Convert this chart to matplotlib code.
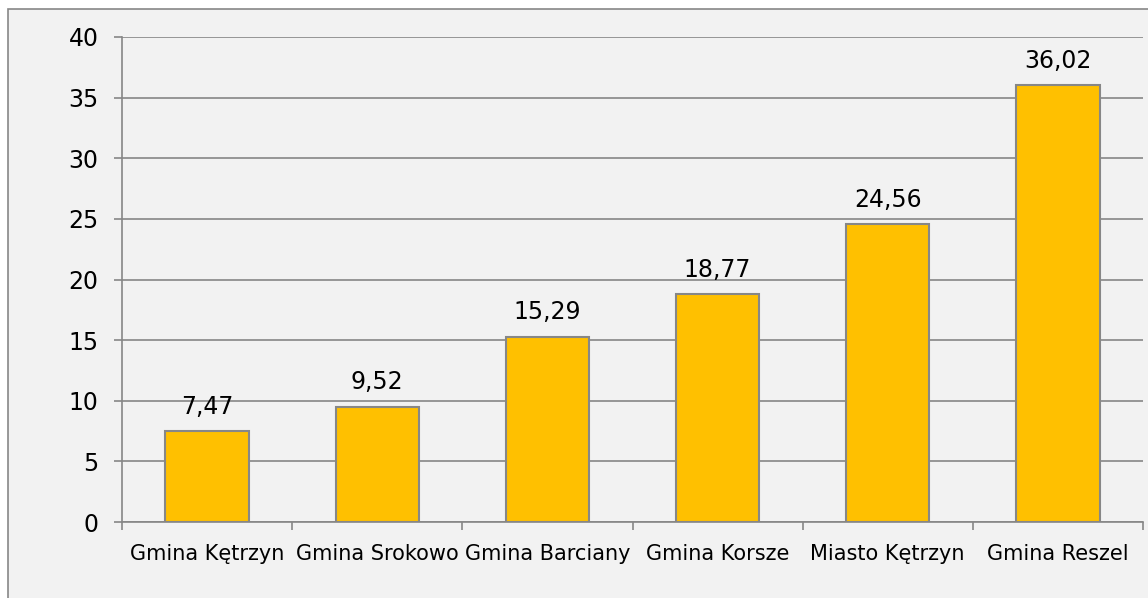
import matplotlib.pyplot as plt
from matplotlib.patches import Rectangle
import numpy as np

categories = ["Gmina Kętrzyn", "Gmina Srokowo", "Gmina Barciany",
              "Gmina Korsze", "Miasto Kętrzyn", "Gmina Reszel"]
values = [7.47, 9.52, 15.29, 18.77, 24.56, 36.02]
yticks = [0, 5, 10, 15, 20, 25, 30, 35, 40]

grey = "#878787"
bg = "#F2F2F2"

plt.rcParams['font.family'] = ['DejaVu Sans']

fig = plt.figure(figsize=(11.48, 5.98), dpi=100, facecolor="white")

# chart area frame (behind the axes)
frame = Rectangle((8 / 1148, -0.02), 1.05, 1 + 0.02 - 8.5 / 598,
                  transform=fig.transFigure, facecolor=bg,
                  edgecolor=grey, linewidth=1.2, zorder=-10)
fig.add_artist(frame)

ax = fig.add_axes([122 / 1148, 1 - 522 / 598, (1143 - 122) / 1148, (522 - 37) / 598])
ax.patch.set_visible(False)
ax.set_zorder(1)

x = np.arange(len(categories))
bars = ax.bar(x, values, width=0.49, color="#FFC000", edgecolor=grey,
              linewidth=1.5, zorder=3)

for xi, v in zip(x, values):
    ax.annotate(f"{v:.2f}".replace(".", ","), (xi, v), xytext=(0, 9),
                textcoords="offset points", ha="center", va="bottom",
                fontsize=17, color="black")

ax.set_xlim(-0.5, len(categories) - 0.5)
ax.set_ylim(0, 40)
ax.set_yticks(yticks)
ax.set_yticklabels([str(t) for t in yticks])
ax.yaxis.grid(True, color=grey, linewidth=1.2, zorder=0)
ax.set_axisbelow(True)

ax.set_xticks(x)
ax.set_xticklabels(categories)
ax.set_xticks(np.arange(-0.5, len(categories)), minor=True)

ax.tick_params(axis="y", length=6, width=1.2, color=grey, labelsize=17, pad=11)
ax.tick_params(axis="x", which="major", length=0, labelsize=15, pad=16)
ax.tick_params(axis="x", which="minor", length=6, width=1.2, color=grey)

for s in ["top", "right"]:
    ax.spines[s].set_visible(False)
for s in ["left", "bottom"]:
    ax.spines[s].set_color(grey)
    ax.spines[s].set_linewidth(1.2)

fig.savefig("out.png", dpi=100, facecolor=fig.get_facecolor())
